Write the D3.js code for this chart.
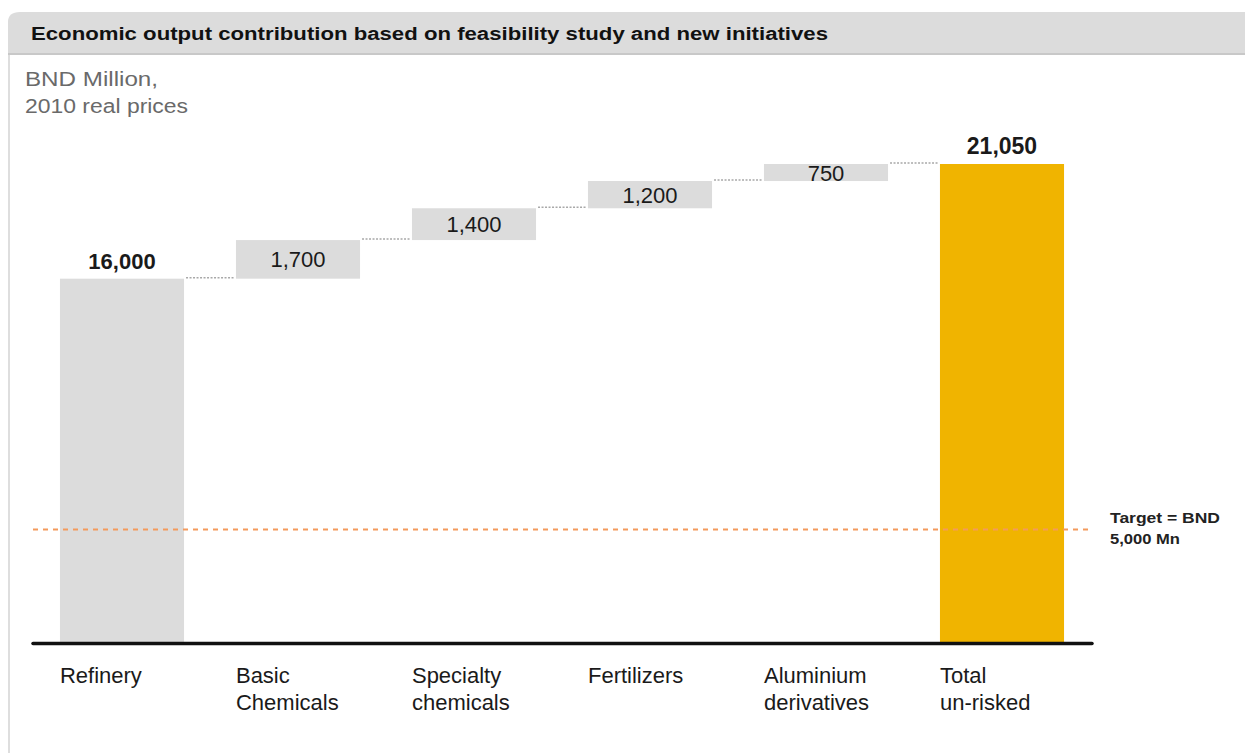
<!DOCTYPE html>
<html>
<head>
<meta charset="utf-8">
<script src="https://cdn.jsdelivr.net/npm/d3@7"></script>
<style>
  html, body { margin: 0; padding: 0; background: #fff; }
  svg { display: block; font-family: "Liberation Sans", Arial, sans-serif; }
</style>
</head>
<body>
<svg id="chart" width="1245" height="753"></svg>
<script>
// Waterfall: refinery base, four initiative increments, un-risked total
const categories = ["Refinery", "Basic Chemicals", "Specialty chemicals", "Fertilizers", "Aluminium derivatives", "Total un-risked"];
const categoryLines = [["Refinery"], ["Basic", "Chemicals"], ["Specialty", "chemicals"], ["Fertilizers"], ["Aluminium", "derivatives"], ["Total", "un-risked"]];
const values = [16000, 1700, 1400, 1200, 750, 21050];
const kinds = ["base", "step", "step", "step", "step", "total"];
const valueLabels = ["16,000", "1,700", "1,400", "1,200", "750", "21,050"];
const targetValue = 5000;
const targetLabel = ["Target = BND", "5,000 Mn"];
const title = "Economic output contribution based on feasibility study and new initiatives";
const unitLines = ["BND Million,", "2010 real prices"];

const svg = d3.select("#chart");

// Frame: left rule and header band
svg.append("rect").attr("x", 8).attr("y", 40).attr("width", 2).attr("height", 713).attr("fill", "#dedede");
svg.append("path")
  .attr("d", "M8,55 L8,22 Q8,12 20,12 L1245,12 L1245,55 Z")
  .attr("fill", "#dcdcdc");
svg.append("rect").attr("x", 8).attr("y", 53).attr("width", 1237).attr("height", 2).attr("fill", "#c8c8c8");
svg.append("text").attr("x", 31).attr("y", 40)
  .attr("font-size", 18).attr("font-weight", "bold").attr("fill", "#111")
  .attr("textLength", 797).attr("lengthAdjust", "spacingAndGlyphs")
  .text(title);

const unitWidths = [133, 163];
svg.append("g").selectAll("text").data(unitLines).join("text")
  .attr("x", 25).attr("y", (d, i) => 86 + i * 27)
  .attr("font-size", 20).attr("fill", "#6a6a6a")
  .attr("textLength", (d, i) => unitWidths[i]).attr("lengthAdjust", "spacingAndGlyphs")
  .text(d => d);

// Scales
const x = d3.scaleBand().domain(categories).range([34, 1090]).paddingInner(0.295).paddingOuter(0.1475);
const y = d3.scaleLinear().domain([0, 21050]).range([642, 164]);

// Compute waterfall segments
let running = 0;
const segs = values.map((v, i) => {
  let lo, hi;
  if (kinds[i] === "step") { lo = running; hi = running + v; running = hi; }
  else if (kinds[i] === "base") { lo = 0; hi = v; running = v; }
  else { lo = 0; hi = v; }
  return { cat: categories[i], v, lo, hi, kind: kinds[i], label: valueLabels[i], lines: categoryLines[i] };
});

// Bars
svg.append("g").selectAll("rect").data(segs).join("rect")
  .attr("x", d => x(d.cat))
  .attr("width", x.bandwidth())
  .attr("y", d => y(d.hi))
  .attr("height", d => y(d.lo) - y(d.hi))
  .attr("fill", d => d.kind === "total" ? "#f0b400" : "#dcdcdc");

// Dotted connectors between consecutive bars
const conn = segs.slice(0, -1).map((d, i) => ({ x1: x(d.cat) + x.bandwidth() + 2, x2: x(segs[i + 1].cat) - 2, v: d.hi }));
svg.append("g").selectAll("line").data(conn).join("line")
  .attr("x1", d => d.x1).attr("x2", d => d.x2)
  .attr("y1", d => y(d.v) - 1).attr("y2", d => y(d.v) - 1)
  .attr("stroke", "#a8a8a8").attr("stroke-width", 1.5).attr("stroke-dasharray", "2,1.5");

// Target line, drawn over the bars
svg.append("line")
  .attr("x1", 33).attr("x2", 1092)
  .attr("y1", y(targetValue) + 1).attr("y2", y(targetValue) + 1)
  .attr("stroke", "#f39a5c").attr("stroke-width", 2).attr("stroke-dasharray", "5,5");

// Value labels
svg.append("g").selectAll("text").data(segs).join("text")
  .attr("x", d => x(d.cat) + x.bandwidth() / 2)
  .attr("y", d => d.kind === "step" ? (y(d.lo) + y(d.hi)) / 2 + 8 : y(d.hi) - 10)
  .attr("text-anchor", "middle")
  .attr("font-size", d => d.kind === "total" ? 23 : 22)
  .attr("font-weight", d => d.kind === "step" ? "normal" : "bold")
  .attr("fill", "#1a1a1a")
  .text(d => d.label);

// Baseline
svg.append("line")
  .attr("x1", 33).attr("x2", 1092).attr("y1", 643.5).attr("y2", 643.5)
  .attr("stroke", "#111").attr("stroke-width", 3.5).attr("stroke-linecap", "round");

// Category labels
const cat = svg.append("g").selectAll("text").data(segs).join("text")
  .attr("x", d => x(d.cat))
  .attr("y", 683)
  .attr("font-size", 22).attr("fill", "#1a1a1a");
cat.selectAll("tspan").data(d => d.lines.map(l => ({ l, x: x(d.cat) }))).join("tspan")
  .attr("x", t => t.x).attr("dy", (t, i) => i === 0 ? 0 : 27)
  .text(t => t.l);

// Target annotation
const targetWidths = [110, 70];
svg.append("g").selectAll("text").data(targetLabel).join("text")
  .attr("x", 1110).attr("y", (d, i) => y(targetValue) - 5 + i * 21)
  .attr("font-size", 14).attr("font-weight", "bold").attr("fill", "#222")
  .attr("textLength", (d, i) => targetWidths[i]).attr("lengthAdjust", "spacingAndGlyphs")
  .text(d => d);
</script>
</body>
</html>
